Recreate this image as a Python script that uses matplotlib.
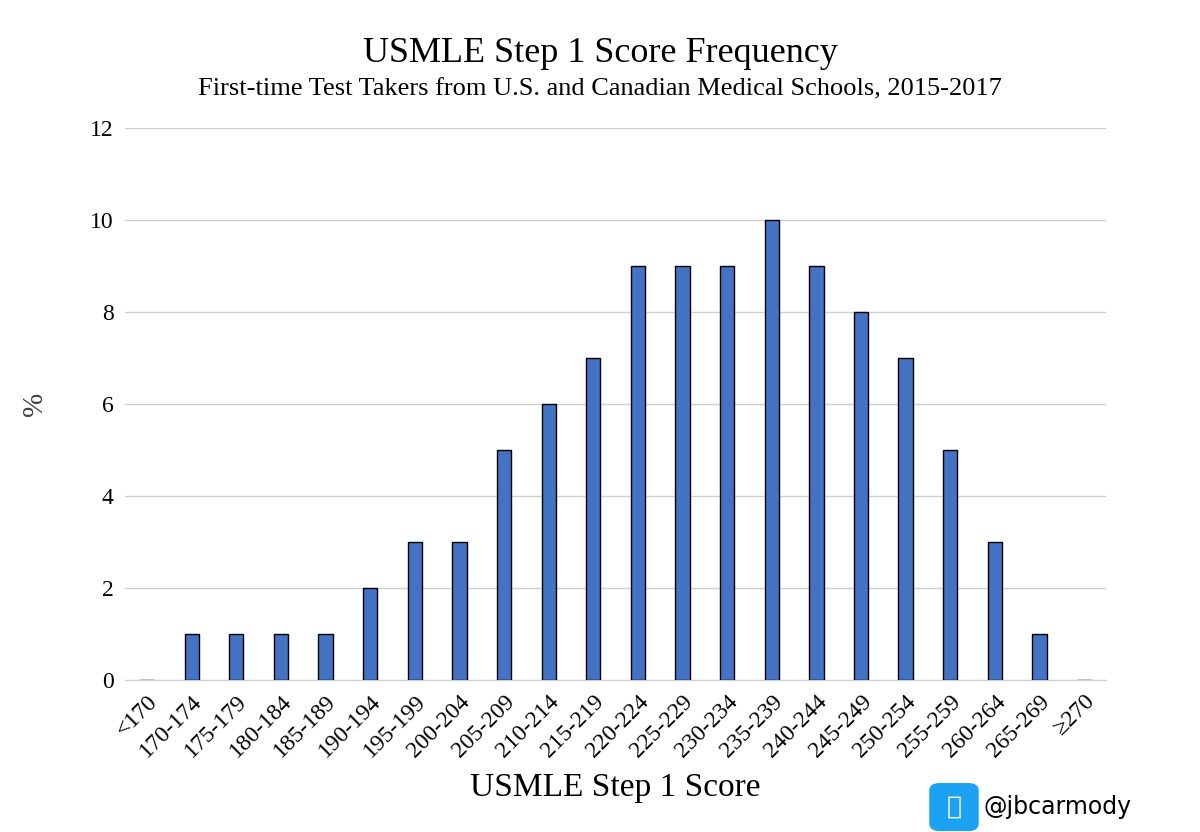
import matplotlib.pyplot as plt
from matplotlib.patches import FancyBboxPatch

plt.rcParams['font.family'] = 'Liberation Serif'

categories = ['<170', '170-174', '175-179', '180-184', '185-189', '190-194', '195-199',
              '200-204', '205-209', '210-214', '215-219', '220-224', '225-229', '230-234',
              '235-239', '240-244', '245-249', '250-254', '255-259', '260-264', '265-269', '≥270']
percent = [0, 1, 1, 1, 1, 2, 3, 3, 5, 6, 7, 9, 9, 9, 10, 9, 8, 7, 5, 3, 1, 0]

fig = plt.figure(figsize=(12, 8.32), dpi=100)
ax = fig.add_axes([0.104, 0.183, 0.818, 0.663])
x = range(len(categories))
ax.bar(x, percent, width=0.32, color='#4472C4', edgecolor='black', linewidth=1, zorder=3)
ax.set_xlim(-0.5, len(categories) - 0.5)
ax.set_ylim(0, 12)
ax.set_yticks(range(0, 13, 2))
ax.grid(axis='y', color='#d0d0d0', linewidth=1, zorder=0)
for s in ['top', 'right', 'left']:
    ax.spines[s].set_visible(False)
ax.spines['bottom'].set_color('#d0d0d0')
ax.tick_params(length=0, labelsize=17, pad=8)
ax.set_xticks(list(x))
ax.set_xticklabels(categories, rotation=45, ha='right', rotation_mode='anchor')
ax.set_ylabel('%', fontsize=21, color='#404040', labelpad=30)
ax.set_xlabel('USMLE Step 1 Score', fontsize=24, labelpad=8)

fig.text(0.5, 0.925, 'USMLE Step 1 Score Frequency', ha='center', fontsize=26)
fig.text(0.5, 0.885, 'First-time Test Takers from U.S. and Canadian Medical Schools, 2015-2017',
         ha='center', fontsize=19)

logo = FancyBboxPatch((0.778, 0.005), 0.034, 0.05, boxstyle='round,pad=0.003,rounding_size=0.008',
                      transform=fig.transFigure, color='#1DA1F2')
fig.patches.append(logo)
fig.text(0.795, 0.03, '🐦', ha='center', va='center', fontsize=18, color='white', family='DejaVu Sans')
fig.text(0.82, 0.03, '@jbcarmody', ha='left', va='center', fontsize=17, family='DejaVu Sans')

fig.savefig('out.png')
